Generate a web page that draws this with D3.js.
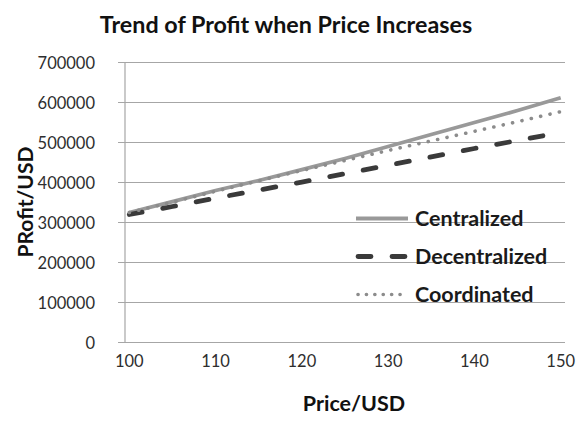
<!DOCTYPE html>
<html>
<head>
<meta charset="utf-8">
<script src="https://cdn.jsdelivr.net/npm/d3@7"></script>
<style>
  body { margin: 0; background: #fff; }
  text { font-family: Lato, "Open Sans", sans-serif; }
</style>
</head>
<body>
<div class="chart"></div>
<script>
// prices (category axis, labels every 10)
const prices = [100, 105, 110, 115, 120, 125, 130, 135, 140, 145, 150];
const centralized   = [325000, 352000, 380000, 405000, 432000, 460000, 490000, 520000, 550000, 580000, 612000];
const decentralized = [320000, 340000, 361000, 381000, 401000, 422000, 443000, 464000, 485000, 505000, 525000];
const coordinated   = [325000, 351000, 378000, 404000, 430000, 455000, 480000, 504000, 528000, 552000, 577000];
const xTicks = [100, 110, 120, 130, 140, 150];
const yTicks = [0, 100000, 200000, 300000, 400000, 500000, 600000, 700000];
const seriesNames = ['Centralized', 'Decentralized', 'Coordinated'];

const width = 585, height = 421;
const plotLeft = 125, plotRight = 565, plotTop = 62.5, plotBottom = 342.5;

const svg = d3.select('.chart')
  .append('svg')
  .attr('width', width)
  .attr('height', height);

// 51 categories (100..150), points sit in the middle of each slot
const x = d3.scaleLinear().domain([99.5, 150.5]).range([plotLeft, plotRight]);
const y = d3.scaleLinear().domain([0, 700000]).range([plotBottom, plotTop]);

// gridlines
svg.append('g')
  .selectAll('line')
  .data(yTicks)
  .enter()
  .append('line')
  .attr('x1', plotLeft - 7)
  .attr('x2', plotRight)
  .attr('y1', d => y(d))
  .attr('y2', d => y(d))
  .attr('stroke', '#a6a6a6')
  .attr('stroke-width', 1.2);

// y axis line
svg.append('line')
  .attr('x1', plotLeft).attr('x2', plotLeft)
  .attr('y1', plotTop).attr('y2', plotBottom)
  .attr('stroke', '#a6a6a6')
  .attr('stroke-width', 1.2);

// y tick labels
svg.append('g')
  .selectAll('text')
  .data(yTicks)
  .enter()
  .append('text')
  .attr('x', plotLeft - 30)
  .attr('y', d => y(d) + 6)
  .attr('text-anchor', 'end')
  .attr('font-size', 16.5)
  .attr('fill', '#2e2e2e')
  .text(d => d);

// x tick labels
svg.append('g')
  .selectAll('text')
  .data(xTicks)
  .enter()
  .append('text')
  .attr('x', d => x(d))
  .attr('y', 367)
  .attr('text-anchor', 'middle')
  .attr('font-size', 16.5)
  .attr('fill', '#2e2e2e')
  .text(d => d);

const styles = {
  Centralized:   {values: centralized,   color: '#999999', width: 3.8, dash: null, cap: 'butt'},
  Decentralized: {values: decentralized, color: '#3a3a3a', width: 4.8, dash: '13 21', cap: 'round'},
  Coordinated:   {values: coordinated,   color: '#8c8c8c', width: 3.6, dash: '0.1 9.5', cap: 'round'}
};

const line = d3.line()
  .x((d, i) => x(prices[i]))
  .y(d => y(d));

seriesNames.forEach(function(name) {
  let s = styles[name];
  svg.append('path')
    .datum(s.values)
    .attr('d', line)
    .attr('fill', 'none')
    .attr('stroke', s.color)
    .attr('stroke-width', s.width)
    .attr('stroke-linecap', s.cap)
    .attr('stroke-dasharray', s.dash);
});

// legend
let legend = svg.selectAll('.legend')
  .data(seriesNames)
  .enter()
  .append('g')
  .attr('class', 'legend')
  .attr('transform', (d, i) => 'translate(356,' + (218.5 + i * 38) + ')');

legend.append('line')
  .attr('x1', d => styles[d].cap === 'round' ? 2 : 0)
  .attr('x2', 52)
  .attr('stroke', d => styles[d].color)
  .attr('stroke-width', d => styles[d].width)
  .attr('stroke-linecap', d => styles[d].cap)
  .attr('stroke-dasharray', (d, i) => i === 2 ? '0.1 8.3' : styles[d].dash);

legend.append('text')
  .attr('x', 59)
  .attr('y', 7)
  .attr('font-size', 21.5)
  .attr('font-weight', 'bold')
  .attr('fill', '#1a1a1a')
  .text(d => d);

// titles
svg.append('text')
  .attr('x', 286)
  .attr('y', 33)
  .attr('text-anchor', 'middle')
  .attr('font-size', 23.3)
  .attr('font-weight', 'bold')
  .attr('fill', '#111')
  .text('Trend of Profit when Price Increases');

svg.append('text')
  .attr('x', 354)
  .attr('y', 411)
  .attr('text-anchor', 'middle')
  .attr('font-size', 21.5)
  .attr('font-weight', 'bold')
  .attr('fill', '#111')
  .text('Price/USD');

svg.append('text')
  .attr('transform', 'translate(33,202) rotate(-90)')
  .attr('text-anchor', 'middle')
  .attr('font-size', 21)
  .attr('font-weight', 'bold')
  .attr('fill', '#111')
  .text('PRofit/USD');
</script>
</body>
</html>
